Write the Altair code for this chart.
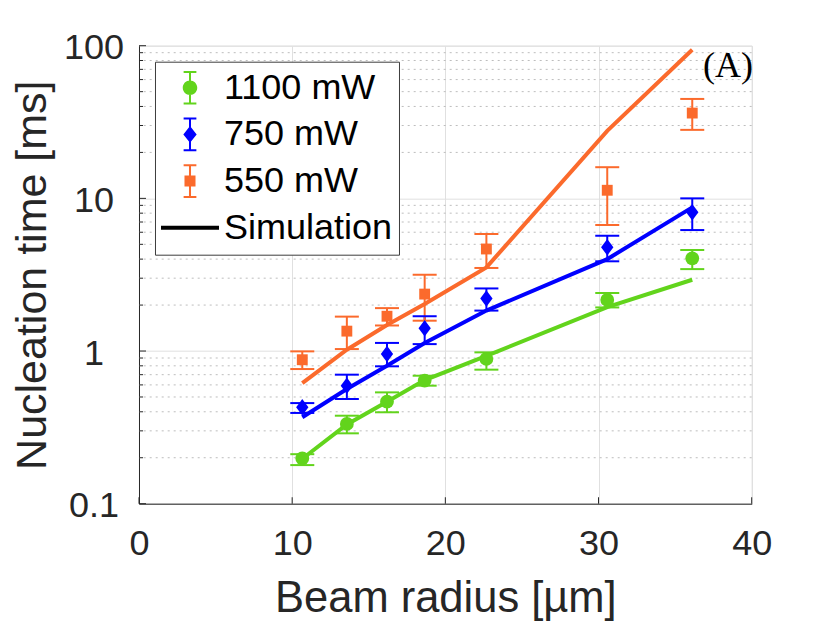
import altair as alt
import pandas as pd

# ---------------- data ----------------
radius = [10.66, 13.57, 16.19, 18.65, 22.68, 30.57, 36.12]
series_names = ["1100 mW", "750 mW", "550 mW"]

t1100 = [0.198, 0.333, 0.466, 0.64, 0.887, 2.16, 4.05]
t1100_lo = [0.179, 0.289, 0.397, 0.593, 0.755, 1.93, 3.44]
t1100_hi = [0.211, 0.377, 0.536, 0.689, 0.98, 2.40, 4.59]

t750 = [0.428, 0.593, 0.955, 1.41, 2.21, 4.78, 8.1]
t750_lo = [0.393, 0.485, 0.794, 1.11, 1.84, 3.87, 6.2]
t750_hi = [0.456, 0.70, 1.13, 1.69, 2.57, 5.69, 10.0]

t550 = [0.877, 1.35, 1.69, 2.36, 4.66, 11.3, 36.2]
t550_lo = [0.762, 1.03, 1.47, 1.58, 3.5, 6.69, 28.1]
t550_hi = [0.995, 1.68, 1.91, 3.16, 5.84, 16.0, 44.8]

sim1100 = [0.197, 0.33, 0.465, 0.645, 0.93, 1.94, 2.93]
sim750 = [0.368, 0.564, 0.80, 1.13, 1.84, 4.0, 8.73]
sim550 = [0.617, 1.02, 1.48, 2.03, 3.53, 27.7, 94.0]

x_ticks = [0, 10, 20, 30, 40]
y_major = [0.1, 1, 10, 100]
y_minor = [m * d for d in (0.1, 1, 10) for m in range(2, 10)]

# ---------------- styling ----------------
colors = ["#62d41c", "#0000ff", "#fb6a2c"]
marker_shapes = ["circle", "M0,-1L0.75,0L0,1L-0.75,0Z", "square"]
marker_sizes = [190, 270, 118]
axis_col = "#262626"
font = "Liberation Sans"


def rect(x0, y0, x1, y1):
    return f"M{x0},{y0}H{x1}V{y1}H{x0}Z"


def errbar_glyph(marker):
    w, h, c, t = 0.035, 0.58, 0.22, 0.07
    return (rect(-w, -h, w, h) + rect(-c, -h, c, -h + t) + rect(-c, h - t, c, h) + marker)


legend_paths = [
    errbar_glyph("M0.25,0A0.25,0.25 0 1 1 -0.25,0A0.25,0.25 0 1 1 0.25,0Z"),
    errbar_glyph("M0,-0.29L0.23,0L0,0.29L-0.23,0Z"),
    errbar_glyph(rect(-0.19, -0.19, 0.19, 0.19)),
    rect(-1, -0.07, 1, 0.07),
]
legend_labels = series_names + ["Simulation"]
legend_colors = colors + ["#000000"]

# ---------------- tables ----------------
meas = []
for s, ys, lo, hi, col, shp, sz in zip(
    series_names, [t1100, t750, t550], [t1100_lo, t750_lo, t550_lo],
    [t1100_hi, t750_hi, t550_hi], colors, marker_shapes, marker_sizes):
    for xv, yv, l, h in zip(radius, ys, lo, hi):
        meas.append(dict(series=s, x=xv, y=yv, lo=l, hi=h, hex=col, shape=shp, size=sz))
meas = pd.DataFrame(meas)

sim = []
for s, ys, col in zip(series_names, [sim1100, sim750, sim550], colors):
    for xv, yv in zip(radius, ys):
        sim.append(dict(series=s, x=xv, y=yv, hex=col))
sim = pd.DataFrame(sim)

minor_df = pd.DataFrame({"v": y_minor})
major_df = pd.DataFrame({"v": y_major})
xt_df = pd.DataFrame({"v": x_ticks})
leg_df = pd.DataFrame({"series": legend_labels})

W, H = 612.7, 458

xs = alt.Scale(domain=[0, 40], nice=False)
ys_ = alt.Scale(type="log", domain=[0.1, 100], nice=False)

xa = alt.Axis(values=x_ticks, grid=True, gridColor="#e0e0e0", ticks=False,
              labelFontSize=36, labelPadding=40, labelBaseline="middle",
              labelFlush=False, labelOverlap=False,
              title="Beam radius [µm]", titleFontSize=43.5, titleFontWeight="normal",
              titleBaseline="alphabetic", titleX=W / 2, titleY=108)
ya = alt.Axis(values=y_major, format="~g", grid=True, gridColor="#e0e0e0", ticks=False,
              labelFontSize=36, labelPadding=45.5, labelAlign="center",
              labelBaseline="middle", labelOffset=2, labelFlush=False, labelOverlap=False,
              title="Nucleation time [ms]", titleFontSize=43, titleFontWeight="normal",
              titleBaseline="alphabetic", titleAlign="center", titleAngle=270,
              titleX=-94, titleY=H / 2)

X = lambda f: alt.X(f, scale=xs, axis=xa)
Y = lambda f: alt.Y(f, scale=ys_, axis=ya)

minor_grid = alt.Chart(minor_df).mark_rule(
    color="#bdbdbd", strokeWidth=1, strokeDash=[2, 4]).encode(y=Y("v:Q"))

lines = alt.Chart(sim).mark_line(strokeWidth=4).encode(
    x=X("x:Q"), y=Y("y:Q"), detail="series:N",
    stroke=alt.Stroke("hex:N", scale=None))

bars = alt.Chart(meas).mark_rule(strokeWidth=2).encode(
    x=X("x:Q"), y=Y("lo:Q"), y2="hi:Q",
    stroke=alt.Stroke("hex:N", scale=None))

caps_lo = alt.Chart(meas).mark_tick(orient="horizontal", size=24, thickness=2, opacity=1).encode(
    x=X("x:Q"), y=Y("lo:Q"), fill=alt.Fill("hex:N", scale=None))
caps_hi = alt.Chart(meas).mark_tick(orient="horizontal", size=24, thickness=2, opacity=1).encode(
    x=X("x:Q"), y=Y("hi:Q"), fill=alt.Fill("hex:N", scale=None))

points = alt.Chart(meas).mark_point(filled=True, opacity=1, strokeWidth=0).encode(
    x=X("x:Q"), y=Y("y:Q"),
    fill=alt.Fill("hex:N", scale=None),
    shape=alt.Shape("shape:N", scale=None),
    size=alt.Size("size:Q", scale=None))

ytick_major = alt.Chart(major_df).mark_tick(
    orient="horizontal", size=7, thickness=1, color=axis_col, opacity=1).encode(
    y=Y("v:Q"), x=alt.value(3.5))
ytick_minor = alt.Chart(minor_df).mark_tick(
    orient="horizontal", size=4, thickness=1, color=axis_col, opacity=1).encode(
    y=Y("v:Q"), x=alt.value(2))
xtick = alt.Chart(xt_df).mark_tick(
    orient="vertical", size=6.5, thickness=1, color=axis_col, opacity=1).encode(
    x=X("v:Q"), y=alt.value(H - 3.25))

panel_label = alt.Chart(pd.DataFrame({"t": ["(A)"]})).mark_text(
    font="Liberation Serif", fontSize=36, align="right", baseline="alphabetic",
    color="#000000").encode(text="t:N", x=alt.value(614), y=alt.value(31.5))

leg = alt.Legend(title=None, orient="top-left", offset=16, fillColor="white",
                 strokeColor="#3c3c3c", padding=6, labelFont=font, labelFontSize=36,
                 labelColor="#000000", labelOffset=5, rowPadding=6.7, clipHeight=40,
                 symbolSize=3364, symbolStrokeWidth=0, labelLimit=500)

legend_layer = alt.Chart(leg_df).transform_filter("false").mark_point(
    filled=True, opacity=1).encode(
    color=alt.Color("series:N", scale=alt.Scale(domain=legend_labels, range=legend_colors),
                    legend=leg, sort=legend_labels),
    shape=alt.Shape("series:N", scale=alt.Scale(domain=legend_labels, range=legend_paths),
                    legend=leg, sort=legend_labels))

chart = alt.layer(
    minor_grid, lines, bars, caps_lo, caps_hi, points,
    ytick_major, ytick_minor, xtick, panel_label, legend_layer
).properties(
    width=W, height=H,
    autosize=alt.AutoSizeParams(type="none"),
    padding={"left": 131, "top": 37.7, "right": 69, "bottom": 118},
    background="white",
).configure_axis(
    domainColor=axis_col, domainWidth=1, labelColor=axis_col, titleColor=axis_col,
    labelFont=font, titleFont=font,
).configure_view(stroke="#dcdcdc", strokeWidth=1)

chart.save("out.html", embed_options={"renderer": "svg", "actions": False})
